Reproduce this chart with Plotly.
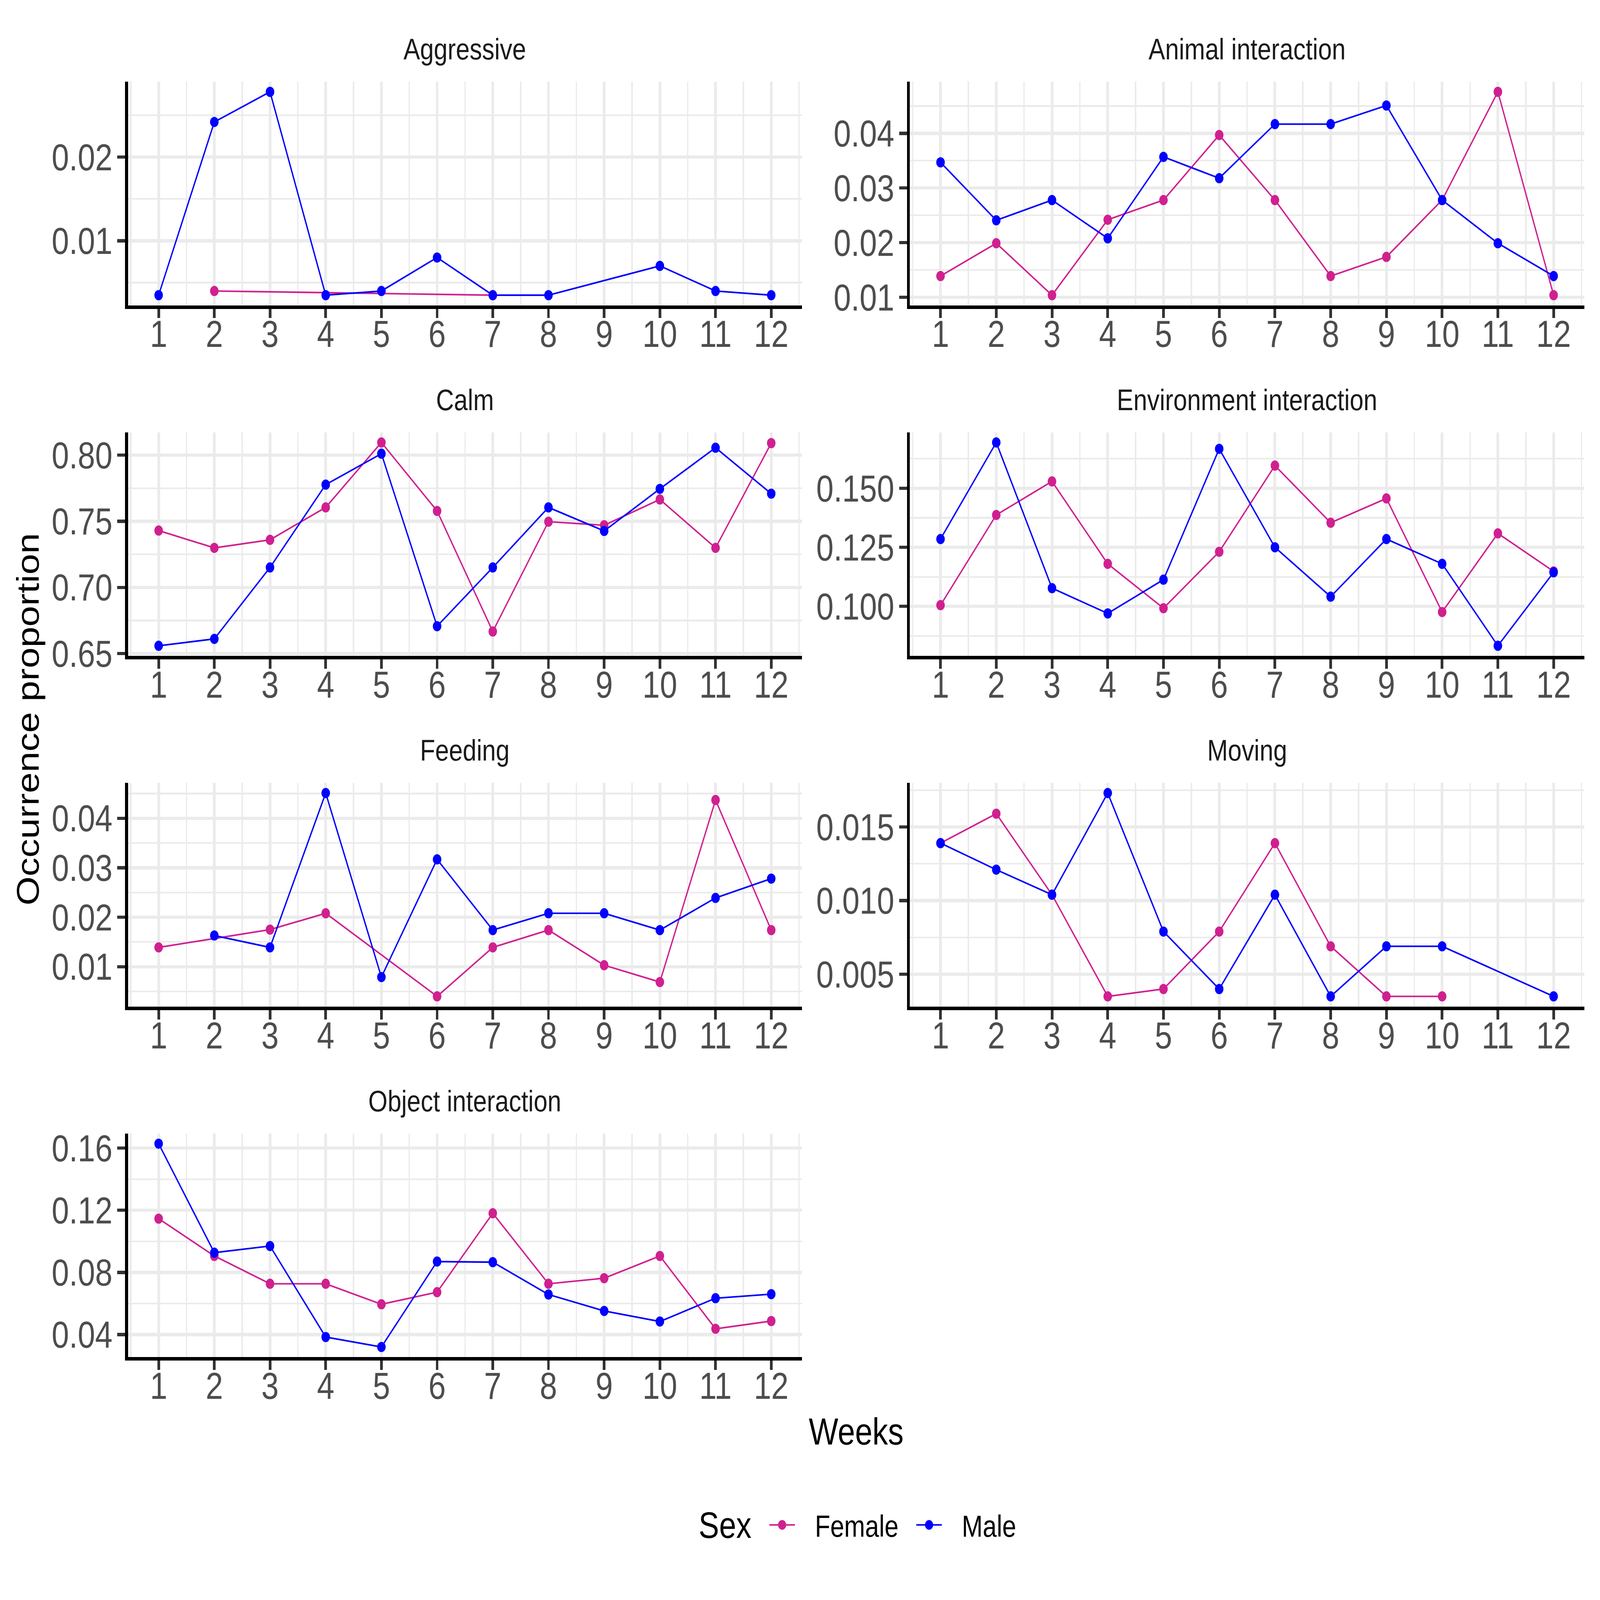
import plotly.graph_objects as go

# ---------------- data ----------------
weeks = [1, 2, 3, 4, 5, 6, 7, 8, 9, 10, 11, 12]
behaviours = ["Aggressive", "Animal interaction", "Calm", "Environment interaction",
              "Feeding", "Moving", "Object interaction"]

aggressive_female = [None, 0.0040, None, None, None, None, 0.0035, None, None, None, None, None]
aggressive_male = [0.0035, 0.0242, 0.0278, 0.0035, 0.0040, 0.0080, 0.0035, 0.0035, None, 0.0070, 0.0040, 0.0035]

animal_female = [0.0139, 0.0199, 0.0104, 0.0242, 0.0278, 0.0397, 0.0278, 0.0139, 0.0174, 0.0278, 0.0476, 0.0104]
animal_male = [0.0347, 0.0241, 0.0278, 0.0208, 0.0357, 0.0318, 0.0417, 0.0417, 0.0451, 0.0278, 0.0199, 0.0139]

calm_female = [0.7430, 0.7299, 0.7360, 0.7605, 0.8096, 0.7578, 0.6667, 0.7497, 0.7470, 0.7665, 0.7299, 0.8091]
calm_male = [0.6559, 0.6611, 0.7151, 0.7777, 0.8011, 0.6707, 0.7151, 0.7605, 0.7427, 0.7745, 0.8056, 0.7709]

environment_female = [0.1005, 0.1387, 0.1529, 0.1180, 0.0992, 0.1231, 0.1596, 0.1354, 0.1457, 0.0976, 0.1309, 0.1148]
environment_male = [0.1285, 0.1694, 0.1077, 0.0970, 0.1113, 0.1667, 0.1250, 0.1041, 0.1285, 0.1180, 0.0833, 0.1144]

feeding_female = [0.0139, None, 0.0175, 0.0208, None, 0.0040, 0.0139, 0.0174, 0.0103, 0.0069, 0.0437, 0.0174]
feeding_male = [None, 0.0163, 0.0139, 0.0451, 0.0079, 0.0317, 0.0174, 0.0208, 0.0208, 0.0174, 0.0239, 0.0278]

moving_female = [0.0139, 0.0159, 0.0104, 0.0035, 0.0040, 0.0079, 0.0139, 0.0069, 0.0035, 0.0035, None, None]
moving_male = [0.0139, 0.0121, 0.0104, 0.0173, 0.0079, 0.0040, 0.0104, 0.0035, 0.0069, 0.0069, None, 0.0035]

object_female = [0.1146, 0.0906, 0.0727, 0.0727, 0.0595, 0.0673, 0.1181, 0.0727, 0.0763, 0.0906, 0.0437, 0.0487]
object_male = [0.1629, 0.0927, 0.0970, 0.0384, 0.0320, 0.0870, 0.0866, 0.0658, 0.0552, 0.0484, 0.0634, 0.0660]

female_series = [aggressive_female, animal_female, calm_female, environment_female,
                 feeding_female, moving_female, object_female]
male_series = [aggressive_male, animal_male, calm_male, environment_male,
               feeding_male, moving_male, object_male]

y_dticks = [0.01, 0.01, 0.05, 0.025, 0.01, 0.005, 0.04]
y_formats = [".2f", ".2f", ".2f", ".3f", ".2f", ".3f", ".2f"]

sex_labels = ["Female", "Male"]

# ---------------- style ----------------
FEMALE_COLOR = "#D02090"
MALE_COLOR = "#0000FF"
FONT = "Liberation Sans, Arial, sans-serif"
W, H = 6000, 5000

col_domains = [[480 / W, 3007 / W], [3412 / W, 5941 / W]]
row_tops = [240, 1353, 2466, 3579]
row_h = 710
row_domains = [[1 - (t + row_h) / H, 1 - t / H] for t in row_tops]

fig = go.Figure()

for i, name in enumerate(behaviours):
    r, c = divmod(i, 2)
    xa = "x" if i == 0 else f"x{i + 1}"
    ya = "y" if i == 0 else f"y{i + 1}"
    for label, series, color in [(sex_labels[0], female_series[i], FEMALE_COLOR),
                                 (sex_labels[1], male_series[i], MALE_COLOR)]:
        fig.add_trace(go.Scatter(
            x=weeks, y=series, mode="lines+markers", name=label,
            legendgroup=label, showlegend=(i == 0), connectgaps=True,
            line=dict(color=color, width=5),
            marker=dict(color=color, size=32),
            xaxis=xa, yaxis=ya,
        ))

    vals = [v for v in female_series[i] + male_series[i] if v is not None]
    lo, hi = min(vals), max(vals)
    pad = 0.05 * (hi - lo)
    dt = y_dticks[i]

    xkey = "xaxis" if i == 0 else f"xaxis{i + 1}"
    ykey = "yaxis" if i == 0 else f"yaxis{i + 1}"
    fig.layout[xkey] = dict(
        domain=col_domains[c], anchor=ya, range=[0.45, 12.55],
        tickmode="array", tickvals=weeks, ticktext=[str(w) for w in weeks],
        showgrid=True, gridcolor="#EBEBEB", gridwidth=10, zeroline=False,
        minor=dict(tickvals=[w - 0.5 for w in weeks] + [12.5], showgrid=True,
                   gridcolor="#EBEBEB", gridwidth=5, ticks=""),
        showline=True, linecolor="black", linewidth=11,
        ticks="outside", ticklen=29, tickwidth=10, tickcolor="#333333",
        tickfont=dict(family=FONT, size=117, color="#4D4D4D"),
        ticklabelstandoff=-50,
    )
    fig.layout[ykey] = dict(
        domain=row_domains[r], anchor=xa, range=[lo - pad, hi + pad],
        tick0=0, dtick=dt, tickformat=y_formats[i],
        showgrid=True, gridcolor="#EBEBEB", gridwidth=10, zeroline=False,
        minor=dict(tick0=0, dtick=dt / 2, showgrid=True, gridcolor="#EBEBEB",
                   gridwidth=5, ticks=""),
        showline=True, linecolor="black", linewidth=11,
        ticks="outside", ticklen=29, tickwidth=10, tickcolor="#333333",
        tickfont=dict(family=FONT, size=117, color="#4D4D4D"),
        ticklabelstandoff=-5,
    )
    fig.add_annotation(
        text=name, xref="paper", yref="paper",
        x=sum(col_domains[c]) / 2, y=row_domains[r][1] + 48 / H,
        xanchor="center", yanchor="bottom", showarrow=False,
        font=dict(family=FONT, size=93, color="#1A1A1A"),
    )

fig.add_annotation(text="Weeks", xref="paper", yref="paper",
                   x=(480 + 5941) / 2 / W, y=1 - 4525 / H, xanchor="center", yanchor="middle",
                   showarrow=False, font=dict(family=FONT, size=117, color="black"))
fig.add_annotation(text="Occurrence proportion", xref="paper", yref="paper",
                   x=104 / W, y=1 - 2264 / H, xanchor="center", yanchor="middle",
                   textangle=-90, showarrow=False,
                   font=dict(family=FONT, size=117, color="black"))
# legend title
fig.add_annotation(text="Sex", xref="paper", yref="paper",
                   x=2820 / W, y=1 - 4822 / H, xanchor="right", yanchor="middle",
                   showarrow=False, font=dict(family=FONT, size=115, color="black"))

fig.update_layout(
    width=W, height=H, margin=dict(l=0, r=0, t=0, b=0),
    paper_bgcolor="white", plot_bgcolor="white",
    font=dict(family=FONT),
    legend=dict(orientation="h", x=2880 / W, xanchor="left", y=1 - 4822 / H, yanchor="middle",
                font=dict(family=FONT, size=94, color="black"),
                itemwidth=96, entrywidth=440, bgcolor="rgba(0,0,0,0)"),
)

# Remove the page margin, stretch the figure to the browser viewport if that
# viewport is smaller than the figure, and restyle the legend keys
# (larger dots, gap between key and label).
fit_script = """
document.documentElement.style.overflow='hidden';
document.body.style.margin='0';
document.body.style.overflow='hidden';
var gd=document.getElementById('{plot_id}');
var sx=Math.min(window.innerWidth/6000,1), sy=Math.min(window.innerHeight/5000,1);
if(sx<1||sy<1){gd.style.transformOrigin='0 0'; gd.style.transform='scale('+sx+','+sy+')';}
gd.querySelectorAll('.legend .legendpoints path.scatterpts').forEach(function(p){
  var t=p.getAttribute('transform')||''; p.setAttribute('transform', t+' scale(1.9)');});
gd.querySelectorAll('.legend text.legendtext').forEach(function(t){
  var x=parseFloat(t.getAttribute('x')||'0'); t.setAttribute('x', x+70);});
"""

fig.write_html("out.html", post_script=fit_script, config={"displayModeBar": False})
